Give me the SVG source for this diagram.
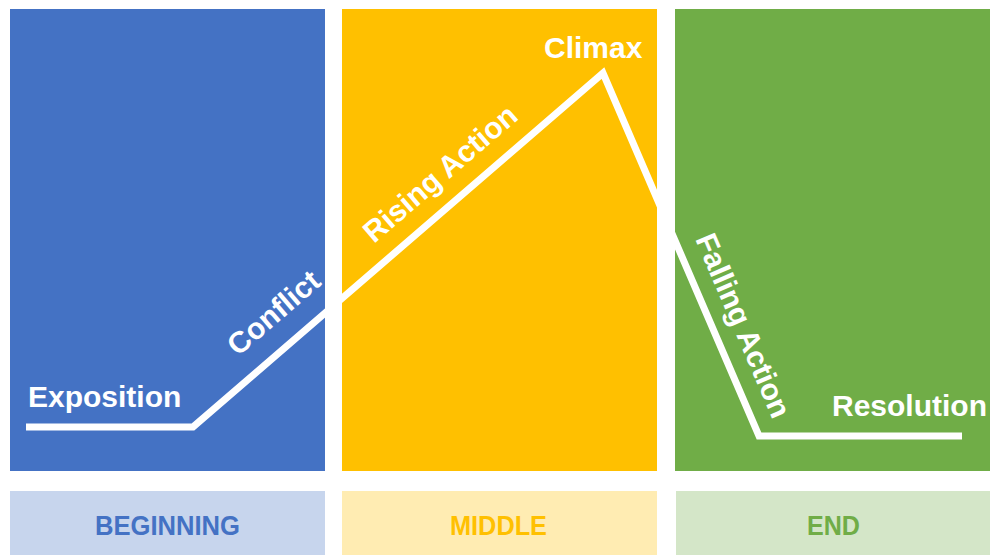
<svg xmlns="http://www.w3.org/2000/svg" width="990" height="555" viewBox="0 0 990 555">
<style>
.lbl{font-family:"Liberation Sans",Arial,sans-serif;font-weight:bold;font-size:30px;fill:#ffffff}
.rot{font-family:"Liberation Sans",Arial,sans-serif;font-weight:bold;font-size:30px;fill:#ffffff}
.sec{font-family:"Liberation Sans",Arial,sans-serif;font-weight:bold;font-size:28px;text-anchor:middle}
.arc{fill:none;stroke:#ffffff;stroke-width:7;stroke-linejoin:miter;stroke-linecap:butt}
</style>
<rect width="990" height="555" fill="#ffffff"/>
<g id="beginning">
<rect x="10" y="9" width="315" height="462" fill="#4472C4"/>
<rect x="10" y="491" width="315" height="64" fill="#C7D5ED"/>
<text class="sec" x="167.5" y="535" fill="#4472C4" textLength="145" lengthAdjust="spacingAndGlyphs">BEGINNING</text>
</g>
<g id="middle">
<rect x="342" y="9" width="315" height="462" fill="#FFC000"/>
<rect x="342" y="491" width="315" height="64" fill="#FFECB2"/>
<text class="sec" x="498.5" y="535" fill="#FFC000" textLength="97" lengthAdjust="spacingAndGlyphs">MIDDLE</text>
</g>
<g id="end">
<rect x="675" y="9" width="315" height="462" fill="#70AD47"/>
<rect x="676" y="491" width="314" height="64" fill="#D4E6C8"/>
<text class="sec" x="833.5" y="535" fill="#70AD47" textLength="53" lengthAdjust="spacingAndGlyphs">END</text>
</g>
<g id="connectors">
<path class="arc" d="M26,427 L193,427 L603,73 L759,436 L962,436"/>
</g>
<g id="exposition"><text class="lbl" x="28" y="407">Exposition</text></g>
<g id="conflict"><text class="rot" transform="translate(238,357) rotate(-40.8)">Conflict</text></g>
<g id="rising-action"><text class="rot" transform="translate(374,244) rotate(-40.8)">Rising Action</text></g>
<g id="climax"><text class="lbl" x="544" y="58">Climax</text></g>
<g id="falling-action"><text class="rot" transform="translate(695,239) rotate(66.75)">Falling Action</text></g>
<g id="resolution"><text class="lbl" x="832" y="416">Resolution</text></g>
</svg>
